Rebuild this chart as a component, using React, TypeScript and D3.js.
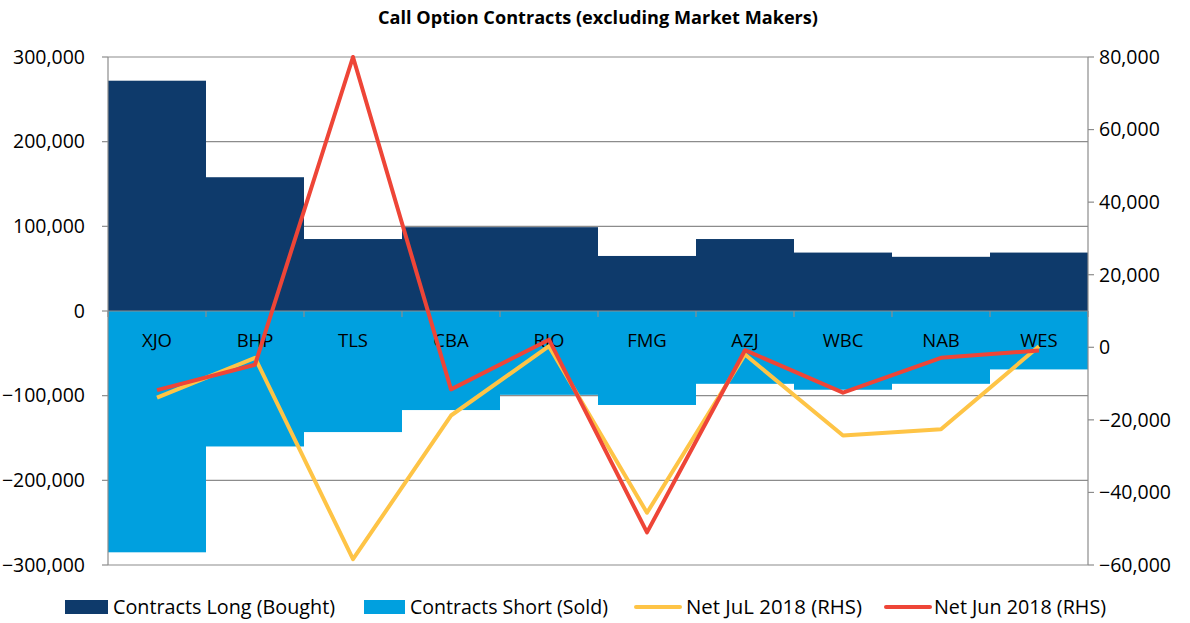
import React from "react";
import * as d3 from "d3";

const categories = ["XJO", "BHP", "TLS", "CBA", "RIO", "FMG", "AZJ", "WBC", "NAB", "WES"];
const contractsLong = [272000, 158000, 85000, 99000, 99000, 65000, 85000, 69000, 64000, 69000];
const contractsShort = [-285000, -160000, -143000, -117000, -99000, -111000, -86000, -93000, -86000, -69000];
const netJul2018 = [-13900, -2900, -58400, -18800, 300, -45600, -2000, -24300, -22600, 300];
const netJun2018 = [-11800, -4800, 80000, -11600, 2100, -51000, -800, -12500, -2900, -900];
const leftTicks = [300000, 200000, 100000, 0, -100000, -200000, -300000];
const rightTicks = [80000, 60000, 40000, 20000, 0, -20000, -40000, -60000];

const W = 1190;
const H = 623;
const left = 108;
const right = 1088;
const top = 57;
const bottom = 565;
const FONT = "'Open Sans', sans-serif";

const NAVY = "#0E3A6B";
const LBLUE = "#00A0DF";
const YELLOW = "#FEC446";
const RED = "#EE4537";
const GRID = "#8C8C8C";

export default function App() {
  const x = d3.scaleBand<string>().domain(categories).range([left, right]).padding(0);
  const yL = d3.scaleLinear().domain([-300000, 300000]).range([bottom, top]);
  const yR = d3.scaleLinear().domain([-60000, 80000]).range([bottom, top]);
  const fmt = d3.format(",");
  const cx = (c: string) => (x(c) as number) + x.bandwidth() / 2;
  const lineGen = (vals: number[]) =>
    d3.line<number>().x((_, i) => cx(categories[i])).y((v) => yR(v))(vals) as string;

  const legend = [
    { type: "rect", color: NAVY, label: "Contracts Long (Bought)", sx: 65, sw: 43, tx: 113, tw: 222 },
    { type: "rect", color: LBLUE, label: "Contracts Short (Sold)", sx: 364, sw: 41, tx: 410, tw: 198 },
    { type: "line", color: YELLOW, label: "Net JuL 2018 (RHS)", sx: 636, sw: 44, tx: 686, tw: 176 },
    { type: "line", color: RED, label: "Net Jun 2018 (RHS)", sx: 886, sw: 44, tx: 934, tw: 172 },
  ];

  return (
    <div style={{ position: "absolute", left: 0, top: 0 }}>
      <svg width={W} height={H} style={{ display: "block", background: "#fff" }} fontFamily={FONT}>
        <text x={598} y={24} textAnchor="middle" fontSize={17} fontWeight="bold" textLength={440} lengthAdjust="spacingAndGlyphs">
          Call Option Contracts (excluding Market Makers)
        </text>
        {/* gridlines */}
        {leftTicks.map((t) => (
          <line key={"g" + t} x1={left} x2={right} y1={yL(t)} y2={yL(t)} stroke={GRID} strokeWidth={1.2} />
        ))}
        {/* bars */}
        {categories.map((c, i) => (
          <rect key={"l" + c} x={x(c)} y={yL(contractsLong[i])} width={x.bandwidth()} height={yL(0) - yL(contractsLong[i])} fill={NAVY} />
        ))}
        {categories.map((c, i) => (
          <rect key={"s" + c} x={x(c)} y={yL(0)} width={x.bandwidth()} height={yL(contractsShort[i]) - yL(0)} fill={LBLUE} />
        ))}
        {/* zero axis */}
        <line x1={left} x2={right} y1={yL(0)} y2={yL(0)} stroke={GRID} strokeWidth={1.2} />
        {categories.map((c) => (
          <line key={"t" + c} x1={x(c)} x2={x(c)} y1={yL(0)} y2={yL(0) + 6} stroke={GRID} strokeWidth={1.2} />
        ))}
        <line x1={right} x2={right} y1={yL(0)} y2={yL(0) + 6} stroke={GRID} strokeWidth={1.2} />
        {/* category labels */}
        {categories.map((c) => (
          <text key={"c" + c} x={cx(c)} y={341} dy="0.35em" textAnchor="middle" fontSize={18.5}>
            {c}
          </text>
        ))}
        {/* left axis */}
        <line x1={left} x2={left} y1={top} y2={bottom} stroke={GRID} strokeWidth={1.2} />
        {leftTicks.map((t) => (
          <g key={"lt" + t}>
            <line x1={left - 6} x2={left} y1={yL(t)} y2={yL(t)} stroke={GRID} strokeWidth={1.2} />
            <text x={85} y={yL(t)} dy="0.35em" textAnchor="end" fontSize={19.5}>
              {fmt(t)}
            </text>
          </g>
        ))}
        {/* right axis */}
        <line x1={right} x2={right} y1={top} y2={bottom} stroke={GRID} strokeWidth={1.2} />
        {rightTicks.map((t) => (
          <g key={"rt" + t}>
            <line x1={right} x2={right + 6} y1={yR(t)} y2={yR(t)} stroke={GRID} strokeWidth={1.2} />
            <text x={1099} y={yR(t)} dy="0.35em" textAnchor="start" fontSize={19.5}>
              {fmt(t)}
            </text>
          </g>
        ))}
        {/* lines */}
        <path d={lineGen(netJul2018)} fill="none" stroke={YELLOW} strokeWidth={4} strokeLinejoin="round" />
        <path d={lineGen(netJun2018)} fill="none" stroke={RED} strokeWidth={4} strokeLinejoin="round" />
        {/* legend */}
        {legend.map((l) => (
          <g key={l.label}>
            {l.type === "rect" ? (
              <rect x={l.sx} y={600} width={l.sw} height={14} fill={l.color} />
            ) : (
              <line x1={l.sx} x2={l.sx + l.sw} y1={607} y2={607} stroke={l.color} strokeWidth={4} strokeLinecap="round" />
            )}
            <text x={l.tx} y={607} dy="0.35em" fontSize={19.5} textLength={l.tw} lengthAdjust="spacingAndGlyphs">
              {l.label}
            </text>
          </g>
        ))}
      </svg>
    </div>
  );
}
